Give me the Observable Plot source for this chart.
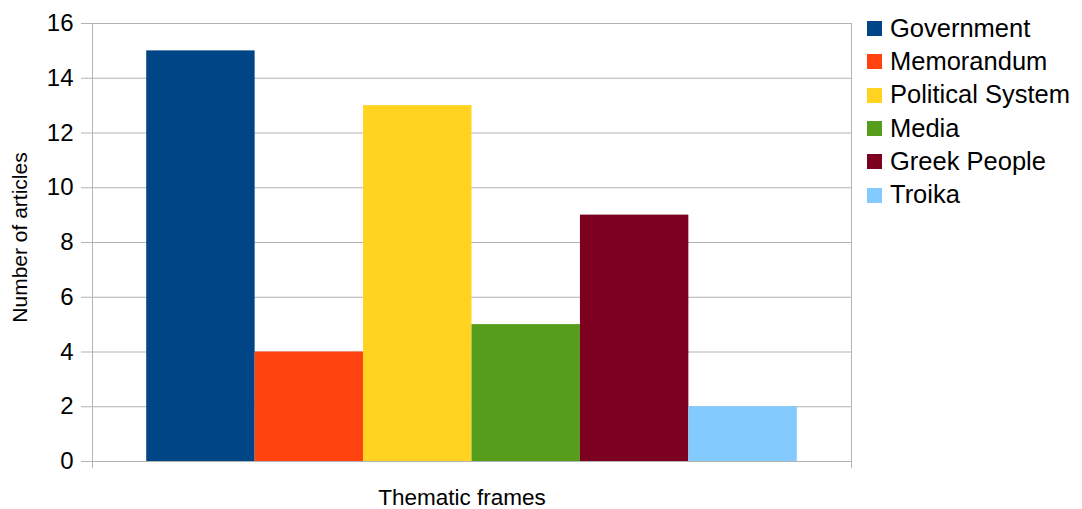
<!DOCTYPE html>
<html>
<head>
<meta charset="utf-8">
<script src="https://cdn.jsdelivr.net/npm/d3@7"></script>
<script src="https://cdn.jsdelivr.net/npm/@observablehq/plot@0.6"></script>
<style>
  html, body { margin: 0; padding: 0; background: #fff; }
  #wrap { position: relative; width: 1082px; height: 509px; font-family: "Liberation Sans", Arial, sans-serif; }
  #legend { position: absolute; left: 867px; top: 12px; }
  .row { display: flex; align-items: center; height: 33.3px; }
  .sw { width: 15px; height: 15px; margin-right: 8px; }
  .lab { font-size: 25.5px; color: #000; line-height: 1; }
</style>
</head>
<body>
<div id="wrap"></div>
<script>
const frames = ["Government", "Memorandum", "Political System", "Media", "Greek People", "Troika"];
const counts = [15, 4, 13, 5, 9, 2];
const colors = ["#004586", "#ff420e", "#ffd320", "#579d1c", "#7e0021", "#83caff"];
const yTicks = [0, 2, 4, 6, 8, 10, 12, 14, 16];
const xLabel = "Thematic frames";
const yLabel = "Number of articles";

const data = frames.map((f, i) => ({frame: f, count: counts[i], pos: i + 0.5}));
const grid = "#b3b3b3";

const chart = Plot.plot({
  width: 1082,
  height: 509,
  marginLeft: 92,
  marginRight: 231,
  marginTop: 23,
  marginBottom: 48,
  style: {fontFamily: "'Liberation Sans', Arial, sans-serif", background: "#fff"},
  x: {type: "linear", domain: [0, 7], axis: null},
  y: {domain: [0, 16], axis: null},
  color: {domain: frames, range: colors},
  marks: [
    Plot.gridY(yTicks, {stroke: grid, strokeOpacity: 1}),
    Plot.frame({stroke: grid}),
    Plot.axisY(yTicks, {tickSize: 11, tickPadding: 8, fontSize: 24, stroke: grid, color: "#000", label: null, tickFormat: d => d}),
    Plot.axisX([0, 7], {tickSize: 7, tickFormat: () => "", stroke: grid, label: null}),
    Plot.rectY(data, {x1: d => d.pos, x2: d => d.pos + 1, y1: 0, y2: "count", fill: "frame"}),
    Plot.text([xLabel], {frameAnchor: "bottom", lineAnchor: "middle", dy: 36, dx: -10, fontSize: 22.5, fill: "#000"}),
    Plot.text([yLabel], {frameAnchor: "left", textAnchor: "middle", dx: -72, dy: -5, rotate: -90, fontSize: 21, fill: "#000"})
  ]
});
const wrap = document.getElementById("wrap");
wrap.appendChild(chart);

const legend = document.createElement("div");
legend.id = "legend";
frames.forEach((f, i) => {
  const row = document.createElement("div");
  row.className = "row";
  const sw = document.createElement("div");
  sw.className = "sw";
  sw.style.background = colors[i];
  const lab = document.createElement("span");
  lab.className = "lab";
  lab.textContent = f;
  row.appendChild(sw);
  row.appendChild(lab);
  legend.appendChild(row);
});
wrap.appendChild(legend);
</script>
</body>
</html>
